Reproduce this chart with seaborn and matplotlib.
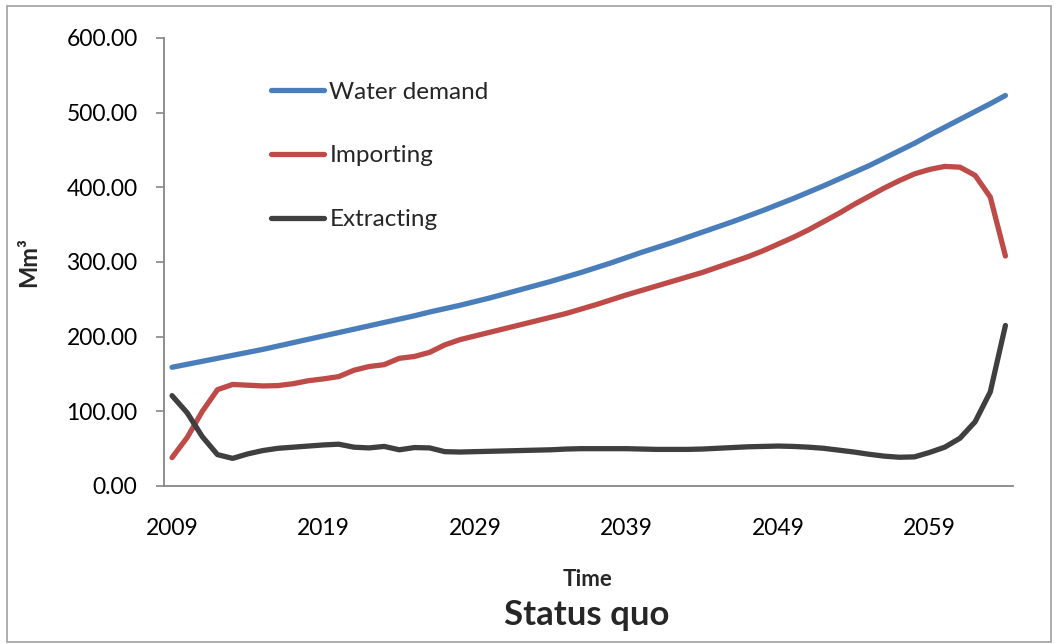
import numpy as np
import pandas as pd
import seaborn as sns
import matplotlib.pyplot as plt
from matplotlib.patches import Rectangle

# data (Mm3 per year)
years = list(range(2009, 2065))

water_demand = [159, 163, 167, 171, 175, 179, 183, 187.5, 192, 196.5,
                201, 205.5, 210, 214.5, 219, 223.5, 228, 233, 237.5, 242,
                247, 252, 257.5, 263, 268.5, 274, 280, 286, 292.5, 299,
                306, 313, 319.5, 326, 333, 340, 347, 354, 361.5, 369,
                377, 385, 393.5, 402, 411, 420, 429, 439, 449, 459,
                470, 480.5, 491, 501.5, 512, 523]

importing = [38, 65, 100, 129, 136, 135, 134, 134.5, 137, 141,
             143.5, 146.5, 155, 160, 162.5, 171, 173.5, 179, 189, 196,
             201, 206, 211, 216, 221, 226, 231, 237, 243, 249.5,
             256, 262, 268, 274, 280, 286, 293, 300, 307, 315,
             324, 333, 343, 354, 365, 377, 388, 399, 409, 418,
             424, 428, 427, 416, 387, 308]

extracting = [121, 98, 66, 42, 37, 43, 47.5, 50.5, 52, 53.5,
              55, 56, 52, 51, 53, 48.5, 51.5, 51, 46, 45.5,
              46, 46.5, 47, 47.5, 48, 48.5, 49.5, 50, 50, 50,
              50, 49.5, 49, 49, 49, 49.5, 50.5, 51.5, 52.5, 53,
              53.5, 53, 52, 50.5, 48, 45.5, 42.5, 40, 38.5, 39,
              45, 52, 64, 86, 126, 215]

series_names = ["Water demand", "Importing", "Extracting"]
colors = ["#4A7EBB", "#BE4B48", "#3F3F3F"]
x_ticks = [2009, 2019, 2029, 2039, 2049, 2059]
y_ticks = [0, 100, 200, 300, 400, 500, 600]

df = pd.DataFrame({
    "Year": years * 3,
    "Value": water_demand + importing + extracting,
    "Series": [series_names[0]] * len(years) + [series_names[1]] * len(years)
              + [series_names[2]] * len(years),
})

sns.set_style("white")
plt.rcParams["font.family"] = ["Lato", "DejaVu Sans"]

fig = plt.figure(figsize=(10.63, 6.44), dpi=100)
ax = fig.add_axes([164 / 1063, 1 - 486 / 644, 849 / 1063, 448 / 644])

sns.lineplot(data=df, x="Year", y="Value", hue="Series", hue_order=series_names,
             palette=colors, linewidth=3.8, ax=ax,
             solid_capstyle="round", solid_joinstyle="round")

ax.set_xlim(2008.47, 2064.5)
ax.set_ylim(0, 600)
ax.set_xticks(x_ticks)
ax.set_yticks(y_ticks)
ax.set_yticklabels([f"{v:.2f}" for v in y_ticks])
ax.tick_params(axis="x", length=0, pad=23, labelsize=16.5, colors="black")
ax.tick_params(axis="y", length=6, width=1.2, pad=13, labelsize=16.5,
               colors="#868686", labelcolor="black", direction="out", left=True)

for side in ["top", "right"]:
    ax.spines[side].set_visible(False)
for side in ["left", "bottom"]:
    ax.spines[side].set_color("#868686")
    ax.spines[side].set_linewidth(1.3)

ax.set_ylabel("Mm³", fontsize=17, fontweight="bold")
ax.yaxis.set_label_coords(-0.146, 0.5)
ax.set_xlabel("Time", fontsize=16, fontweight="bold")
ax.xaxis.set_label_coords(0.4994, -0.185)

handles, labels = ax.get_legend_handles_labels()
ax.legend(handles, labels, loc="upper left", bbox_to_anchor=(0.126, 0.902),
          frameon=False, fontsize=17.5, handlelength=2.2, handletextpad=0.2,
          labelspacing=1.75, borderpad=0, borderaxespad=0)

fig.text(587 / 1063, 1 - 615 / 644, "Status quo", ha="center", va="center",
         fontsize=25, fontweight="bold")

# outer chart border
fig.patches.append(Rectangle((7 / 1063, 2 / 644), 1044 / 1063, 636 / 644,
                             transform=fig.transFigure, fill=False,
                             edgecolor="#A0A0A0", linewidth=1.2))

fig.savefig("out.png", dpi=100)
